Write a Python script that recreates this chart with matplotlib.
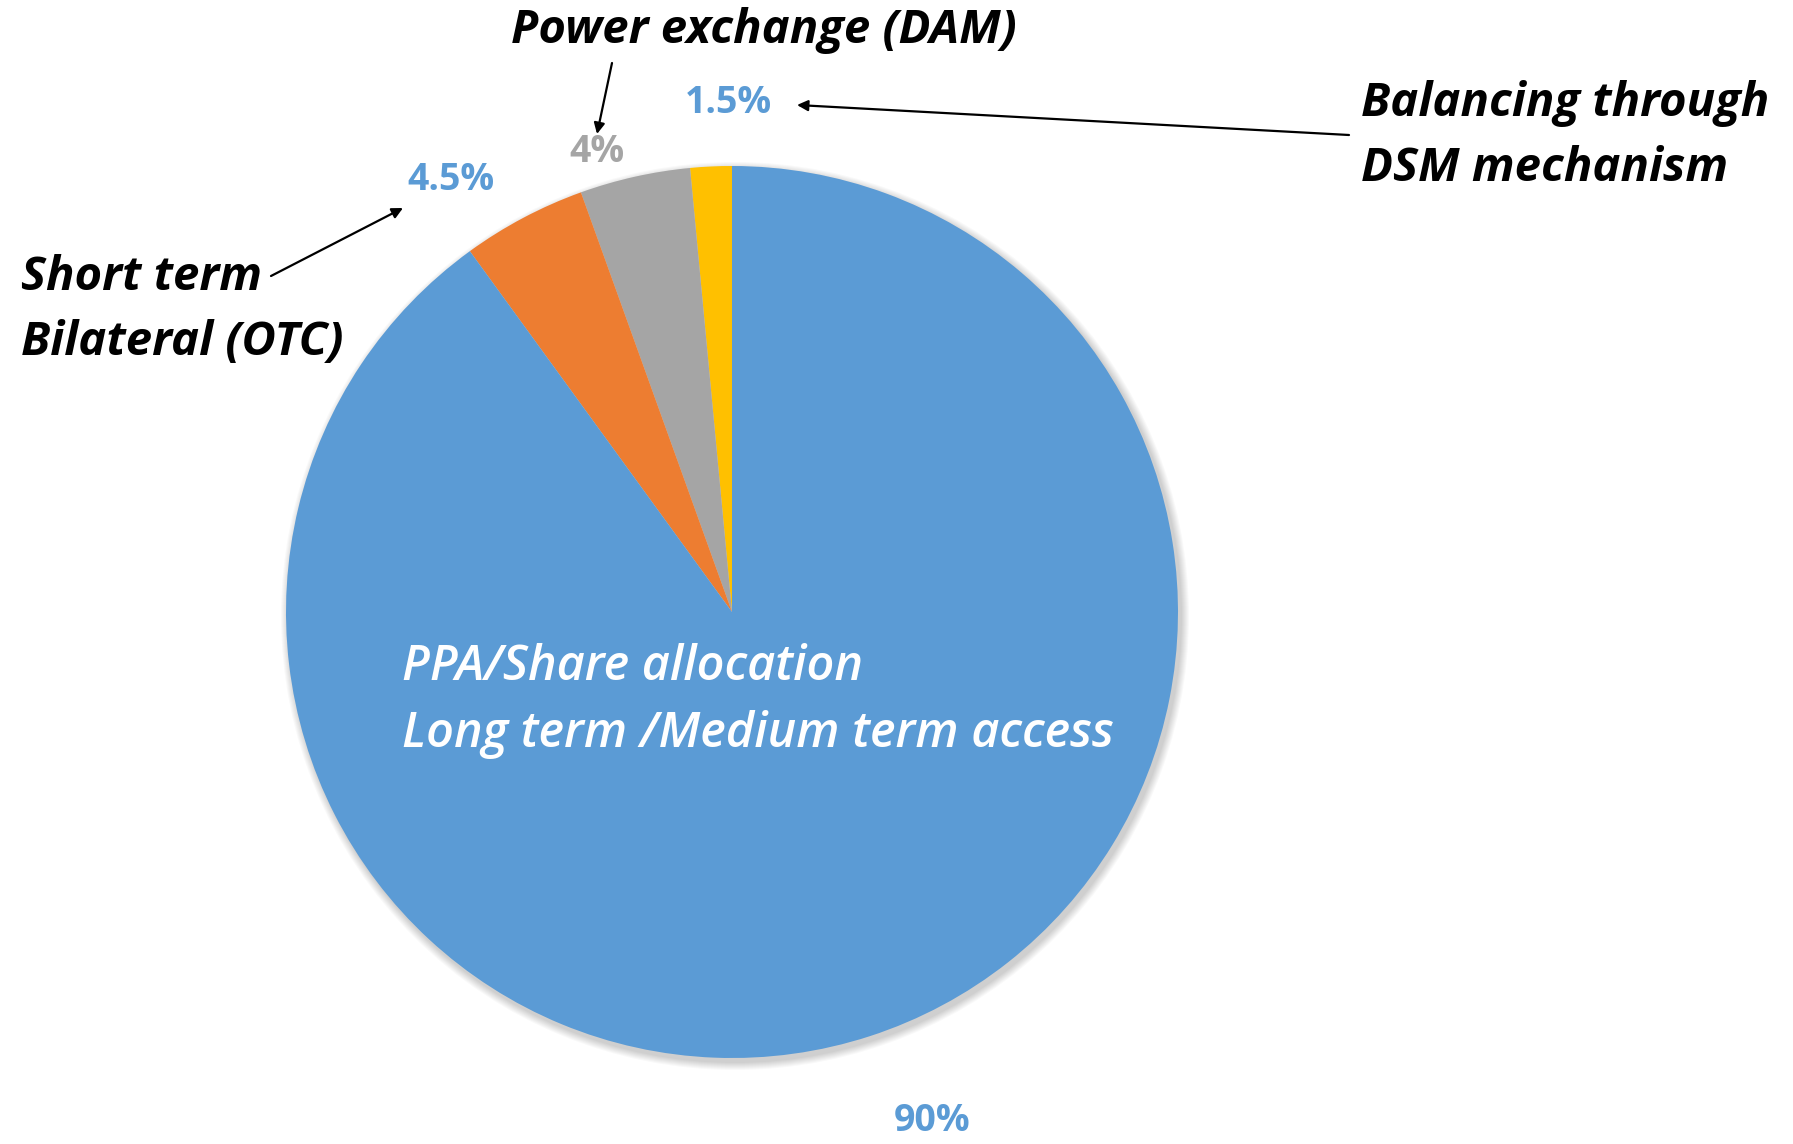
import matplotlib.pyplot as plt
import matplotlib.patches as mpatches

# data, counter-clockwise from 12 o'clock
labels = ["Balancing through\nDSM mechanism", "Power exchange (DAM)",
          "Short term\nBilateral (OTC)", "PPA/Share allocation\nLong term /Medium term access"]
shares = [1.5, 4, 4.5, 90]
pct_text = ["1.5%", "4%", "4.5%", "90%"]
colors = ["#FFC000", "#A5A5A5", "#ED7D31", "#5B9BD5"]
pct_colors = ["#5B9BD5", "#A5A5A5", "#5B9BD5", "#5B9BD5"]

W, H = 1793, 1144
FONT = "Open Sans"

def Y(y):  # pixel row -> data y
    return H - y

fig = plt.figure(figsize=(W / 100, H / 100), dpi=100)
ax = fig.add_axes([0, 0, 1, 1])

cx, cy, r = 732, Y(612), 446

# soft shadow round the pie
for k in range(8):
    ax.add_patch(mpatches.Circle((cx + 3, cy - 4), r + 1 + k, color="black",
                                 alpha=0.025, lw=0, zorder=0))

ax.pie(shares, colors=colors, startangle=90, counterclock=True,
       center=(cx, cy), radius=r, wedgeprops=dict(linewidth=0))

ax.set_xlim(0, W)
ax.set_ylim(0, H)
ax.set_aspect("equal")
ax.axis("off")

# percentage labels
pct_pos = [(728, 103), (597, 152), (451, 180), (932, 1121)]
for txt, c, (x, y) in zip(pct_text, pct_colors, pct_pos):
    ax.text(x, Y(y), txt, color=c, fontsize=27, fontweight="bold",
            family=FONT, ha="center", va="center")

# category labels
cat = dict(fontsize=34, fontweight="bold", fontstyle="italic", family=FONT,
           color="black", linespacing=1.5)
ax.text(764, Y(31), labels[1], ha="center", va="center", **cat)
ax.text(1361, Y(136), labels[0], ha="left", va="center", **cat)
ax.text(21, Y(310), labels[2], ha="left", va="center", **cat)
ax.text(402, Y(701), labels[3], ha="left", va="center", color="white",
        fontsize=35, fontweight="semibold", fontstyle="italic", family=FONT,
        linespacing=1.5)

# arrows
arr = dict(arrowstyle="-|>", lw=1.6, color="black", mutation_scale=16,
           shrinkA=0, shrinkB=0)
ax.annotate("", xy=(797, Y(105)), xytext=(1349, Y(135)), arrowprops=arr)
ax.annotate("", xy=(597, Y(134)), xytext=(612, Y(63)), arrowprops=arr)
ax.annotate("", xy=(403, Y(208)), xytext=(271, Y(276)), arrowprops=arr)

fig.savefig("out.png", dpi=100, facecolor="white")
